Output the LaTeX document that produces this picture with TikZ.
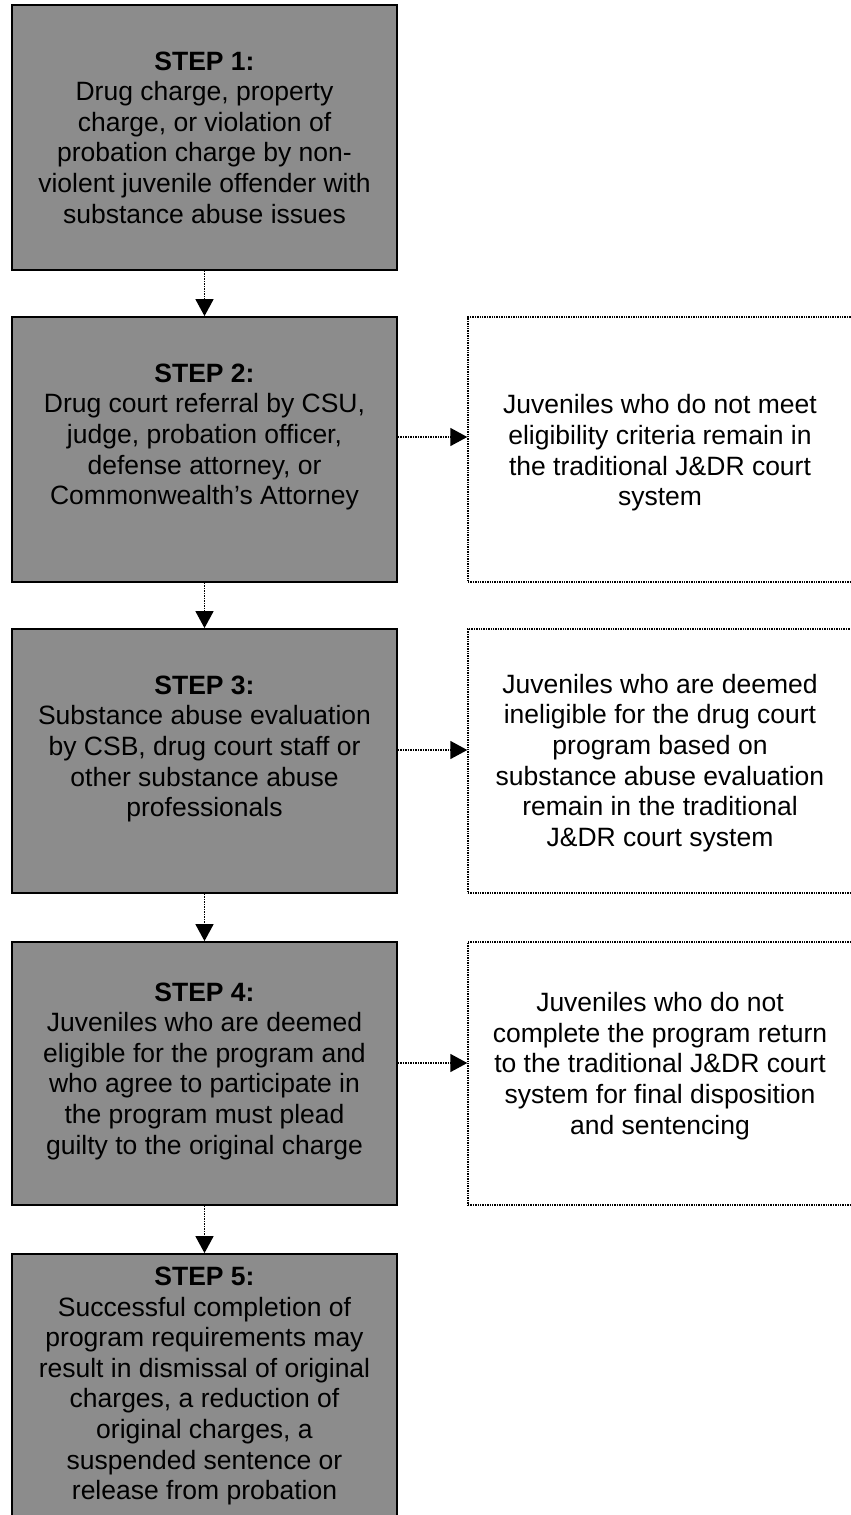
\documentclass[tikz,border=0pt]{standalone}
\usepackage{fontspec}
\setmainfont{Liberation Sans}
\usetikzlibrary{arrows.meta}
\tikzset{
  stepbox/.style={draw=black, line width=1.8pt, fill=black!45, minimum width=385pt, inner sep=0pt},
  sidebox/.style={draw=black, line width=1.4pt, densely dotted, fill=white, minimum width=384pt, inner sep=0pt},
  txt/.style={align=center, inner sep=0pt, font=\fontsize{26.5}{30.6}\selectfont},
  conn/.style={line width=1.5pt, densely dotted, -{Triangle[width=18pt,length=17pt]}}
}
\begin{document}
\begin{tikzpicture}[x=1pt,y=-1pt]
\useasboundingbox (0,0) rectangle (851,1515);
\fill[white] (0,0) rectangle (851,1515);

% left step boxes
\node[stepbox, minimum height=265pt] (s1) at (204.5,137.5) {};
\node[stepbox, minimum height=265pt] (s2) at (204.5,449.5) {};
\node[stepbox, minimum height=264pt] (s3) at (204.5,761) {};
\node[stepbox, minimum height=263pt] (s4) at (204.5,1073.5) {};
\node[stepbox, minimum height=262pt] (s5) at (204.5,1385) {};

% right side boxes
\node[sidebox, minimum height=265pt] (r1) at (660,449.5) {};
\node[sidebox, minimum height=264pt] (r2) at (660,761) {};
\node[sidebox, minimum height=263pt] (r3) at (660,1073.5) {};

% texts
\node[txt] (t1) at (204.5,137.5) {\textbf{STEP 1:}\\Drug charge, property\\charge, or violation of\\probation charge by non-\\violent juvenile offender with\\substance abuse issues};
\node[txt] (t2) at (204.5,437) {\textbf{STEP 2:}\\Drug court referral by CSU,\\judge, probation officer,\\defense attorney, or\\Commonwealth's Attorney};
\node[txt] (t3) at (204.5,749) {\textbf{STEP 3:}\\Substance abuse evaluation\\by CSB, drug court staff or\\other substance abuse\\professionals};
\node[txt] (t4) at (204.5,1071) {\textbf{STEP 4:}\\Juveniles who are deemed\\eligible for the program and\\who agree to participate in\\the program must plead\\guilty to the original charge};
\node[txt] (t5) at (204.5,1386) {\textbf{STEP 5:}\\Successful completion of\\program requirements may\\result in dismissal of original\\charges, a reduction of\\original charges, a\\suspended sentence or\\release from probation};

\node[txt] (u1) at (660,453) {Juveniles who do not meet\\eligibility criteria remain in\\the traditional J\&DR court\\system};
\node[txt] (u2) at (660,763) {Juveniles who are deemed\\ineligible for the drug court\\program based on\\substance abuse evaluation\\remain in the traditional\\J\&DR court system};
\node[txt] (u3) at (660,1066) {Juveniles who do not\\complete the program return\\to the traditional J\&DR court\\system for final disposition\\and sentencing};

% connectors
\draw[conn] (s1) -- (s2);
\draw[conn] (s2) -- (s3);
\draw[conn] (s3) -- (s4);
\draw[conn] (s4) -- (s5);
\draw[conn] ([yshift=12.5pt]s2.east) -- ([yshift=12.5pt]r1.west);
\draw[conn] ([yshift=11pt]s3.east) -- ([yshift=11pt]r2.west);
\draw[conn] ([yshift=10.5pt]s4.east) -- ([yshift=10.5pt]r3.west);
\end{tikzpicture}
\end{document}
